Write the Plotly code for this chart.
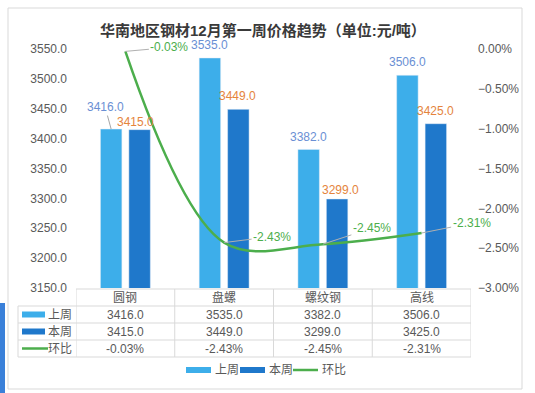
import plotly.graph_objects as go

categories = ["圆钢", "盘螺", "螺纹钢", "高线"]
last_week = [3416.0, 3535.0, 3382.0, 3506.0]
this_week = [3415.0, 3449.0, 3299.0, 3425.0]
change_pct = [-0.0003, -0.0243, -0.0245, -0.0231]
series_names = ["上周", "本周", "环比"]
title_text = "华南地区钢材12月第一周价格趋势（单位:元/吨）"

# ---- styling / layout constants ----
W, H = 535, 393
PL, PR, PT, PB = 76, 471, 49, 288
C_LIGHT = "#3daeea"
C_DARK = "#1f78cb"
C_GREEN = "#4cae4c"
C_LBL_BLUE = "#6a8fd4"
C_LBL_ORANGE = "#e5843c"
C_TXT = "#595959"
C_GRID = "#d9d9d9"
FONT = "Liberation Sans, Noto Sans CJK SC, sans-serif"
BAR_OFF = 14.25  # px offset of each bar from category center


def px(x):
    return (x - PL) / (PR - PL)


def py(y):
    return (PB - y) / (PB - PT)


def ptext(x, y, text, size=12, color=C_TXT, xanchor="center", **kw):
    return dict(x=px(x), y=py(y), xref="paper", yref="paper", text=text, showarrow=False,
                xanchor=xanchor, yanchor="middle", font=dict(size=size, color=color, **kw))


fig = go.Figure()
fig.add_trace(go.Bar(x=categories, y=last_week, name=series_names[0],
                     marker_color=C_LIGHT, showlegend=False))
fig.add_trace(go.Bar(x=categories, y=this_week, name=series_names[1],
                     marker_color=C_DARK, showlegend=False))
fig.add_trace(go.Scatter(x=categories, y=change_pct, name=series_names[2], yaxis="y2",
                         mode="lines", line=dict(color=C_GREEN, width=2.5,
                                                 shape="spline", smoothing=1.0),
                         showlegend=False))

annotations = []
shapes = []

# bar value labels (offsets in px: dx, dy)
lw_off = [(-6, 22), (0, 13), (0, 12), (0, 13)]
tw_off = [(-4, 8), (-1, 13), (3, 9), (0, 13)]
for i, c in enumerate(categories):
    dx, dy = lw_off[i]
    if i == 0:
        annotations.append(dict(x=c, y=last_week[i], xref="x", yref="y", text=f"{last_week[i]:.1f}",
                                showarrow=True, ax=dx, ay=-dy, arrowhead=0, arrowwidth=1,
                                arrowcolor="#a6a6a6", xshift=-BAR_OFF, standoff=0,
                                font=dict(color=C_LBL_BLUE, size=12)))
    else:
        annotations.append(dict(x=c, y=last_week[i], xref="x", yref="y", text=f"{last_week[i]:.1f}",
                                showarrow=False, xshift=-BAR_OFF + dx, yshift=dy,
                                xanchor="center", yanchor="middle",
                                font=dict(color=C_LBL_BLUE, size=12)))
    dx, dy = tw_off[i]
    annotations.append(dict(x=c, y=this_week[i], xref="x", yref="y", text=f"{this_week[i]:.1f}",
                            showarrow=False, xshift=BAR_OFF + dx, yshift=dy,
                            xanchor="center", yanchor="middle",
                            font=dict(color=C_LBL_ORANGE, size=12)))

# line labels with leader lines
ln_off = [(44, -4), (48, -6), (49, -16), (50, -10)]
for i, c in enumerate(categories):
    ax, ay = ln_off[i]
    annotations.append(dict(x=c, y=change_pct[i], xref="x", yref="y2", text=f"{change_pct[i]*100:.2f}%",
                            showarrow=True, ax=ax, ay=ay, arrowhead=0, arrowwidth=1,
                            arrowcolor="#b0b0b0", standoff=0,
                            font=dict(color=C_GREEN, size=12)))

# title
annotations.append(ptext(263, 31, f"<b>{title_text}</b>", size=15, color="#3a3a3a", family=FONT))

# ---- data table ----
rows_y = [297.5, 314.5, 331.5, 348.5]
row_lines = [289, 306, 323, 340, 357]
line_style = dict(color=C_GRID, width=1)
shapes.append(dict(type="line", xref="paper", yref="paper", x0=0, x1=1, y0=py(289), y1=py(289), line=line_style))
for yy in row_lines[1:]:
    shapes.append(dict(type="line", xref="paper", yref="paper", x0=px(18), x1=1, y0=py(yy), y1=py(yy), line=line_style))
shapes.append(dict(type="line", xref="paper", yref="paper", x0=px(18), x1=px(18), y0=py(306), y1=py(357), line=line_style))
for k in range(len(categories) + 1):
    shapes.append(dict(type="line", xref="x", yref="paper", x0=k - 0.5, x1=k - 0.5,
                       y0=py(289), y1=py(357), line=line_style))
row_vals = [
    [f"{v:.1f}" for v in last_week],
    [f"{v:.1f}" for v in this_week],
    [f"{v*100:.2f}%" for v in change_pct],
]
for i, c in enumerate(categories):
    annotations.append(dict(x=i, y=py(rows_y[0]), xref="x", yref="paper", text=c, showarrow=False,
                            xanchor="center", yanchor="middle", font=dict(size=12, color=C_TXT)))
    for r in range(3):
        annotations.append(dict(x=i, y=py(rows_y[r + 1]), xref="x", yref="paper", text=row_vals[r][i],
                                showarrow=False, xanchor="center", yanchor="middle",
                                font=dict(size=12, color=C_TXT)))
for r, name in enumerate(series_names):
    yc = rows_y[r + 1]
    annotations.append(ptext(74, yc, name, xanchor="right"))
    if r < 2:
        shapes.append(dict(type="rect", xref="paper", yref="paper", x0=px(22), x1=px(45),
                           y0=py(yc - 3), y1=py(yc + 3), line=dict(width=0),
                           fillcolor=[C_LIGHT, C_DARK][r]))
    else:
        shapes.append(dict(type="line", xref="paper", yref="paper", x0=px(22), x1=px(48),
                           y0=py(yc), y1=py(yc), line=dict(color=C_GREEN, width=2.5)))

# ---- legend (manual) ----
LY = 370
leg = [(186, C_LIGHT, "rect"), (240, C_DARK, "rect"), (293, C_GREEN, "line")]
for (x0, col, kind), name in zip(leg, series_names):
    if kind == "rect":
        shapes.append(dict(type="rect", xref="paper", yref="paper", x0=px(x0), x1=px(x0 + 25),
                           y0=py(LY - 3), y1=py(LY + 3), line=dict(width=0), fillcolor=col))
    else:
        shapes.append(dict(type="line", xref="paper", yref="paper", x0=px(x0), x1=px(x0 + 25),
                           y0=py(LY), y1=py(LY), line=dict(color=col, width=2.5)))
    annotations.append(ptext(x0 + 27, LY, name, xanchor="left"))

# frame and side accent
shapes.append(dict(type="rect", xref="paper", yref="paper", x0=px(8), x1=px(522), y0=py(8), y1=py(389),
                   line=dict(color=C_GRID, width=1), fillcolor="rgba(0,0,0,0)", layer="below"))
shapes.append(dict(type="rect", xref="paper", yref="paper", x0=px(0), x1=px(5), y0=py(303), y1=py(393),
                   line=dict(width=0), fillcolor="#3a80d9"))

fig.update_layout(
    width=W, height=H,
    margin=dict(l=PL, r=W - PR, t=PT, b=H - PB, pad=0),
    paper_bgcolor="white", plot_bgcolor="white",
    font=dict(family=FONT, size=12, color=C_TXT),
    barmode="group", bargap=0.424, bargroupgap=0.245,
    hovermode=False,
    xaxis=dict(showticklabels=False, showgrid=False, zeroline=False, showline=False,
               range=[-0.5, 3.5], fixedrange=True),
    yaxis=dict(range=[3150, 3550], dtick=50, tickformat=".1f", showgrid=False, zeroline=False,
               showline=False, ticks="", ticklabelstandoff=8, tickfont=dict(size=12, color=C_TXT)),
    yaxis2=dict(overlaying="y", side="right", range=[-0.03, 0], dtick=0.005, tickformat=".2%",
                showgrid=False, zeroline=False, showline=False, ticks="", ticklabelstandoff=6,
                tickfont=dict(size=12, color=C_TXT)),
    annotations=annotations, shapes=shapes,
)

fig.write_html("out.html", config={"displayModeBar": False},
               post_script="document.body.style.margin='0';")
